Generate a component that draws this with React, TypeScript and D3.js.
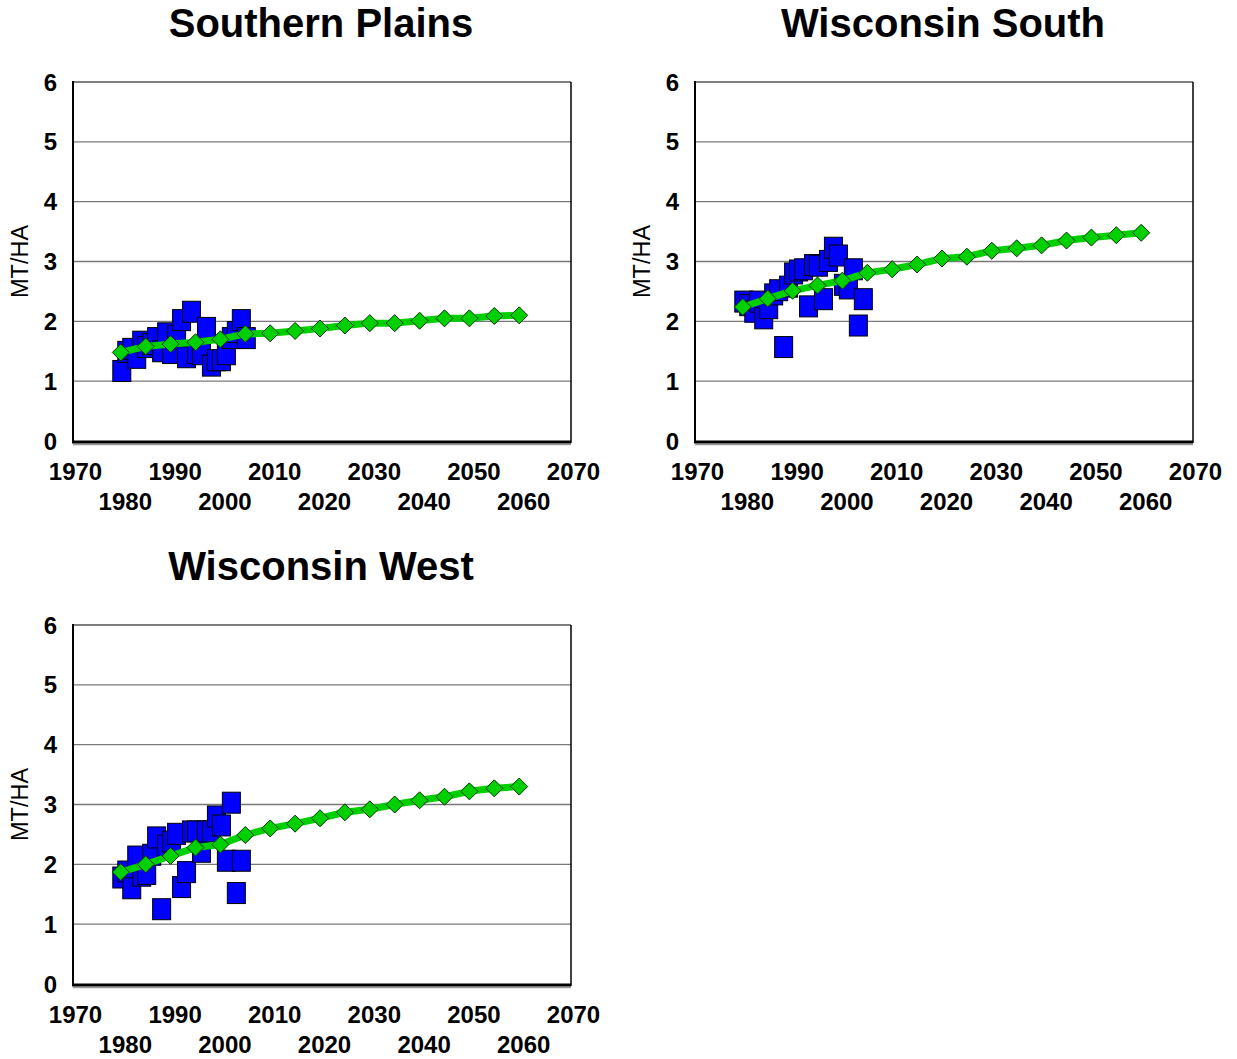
import React from "react";
import * as d3 from "d3";

// ---------- Data ----------
const obsYears = d3.range(1980, 2006);
const projYears = d3.range(1980, 2061, 5);

const southernPlainsObs = [
  1.17, 1.49, 1.54, 1.39, 1.66, 1.57, 1.62, 1.72, 1.5, 1.8, 1.47, 1.76, 2.02,
  1.4, 2.16, 1.47, 1.45, 1.89, 1.26, 1.35, 1.35, 1.45, 1.72, 1.82, 2.02, 1.72,
];
const southernPlainsProj = [
  1.48, 1.58, 1.62, 1.65, 1.7, 1.79, 1.8, 1.84, 1.88, 1.93, 1.97, 1.97, 2.01,
  2.05, 2.05, 2.09, 2.1,
];

const wisconsinSouthObs = [
  2.33, 2.27, 2.16, 2.33, 2.05, 2.22, 2.45, 2.52, 1.57, 2.58, 2.8, 2.85, 2.87,
  2.25, 2.94, 2.93, 2.37, 3.01, 3.23, 3.1, 2.61, 2.55, 2.87, 1.93, 2.37,
];
const wisconsinSouthProj = [
  2.24, 2.38, 2.51, 2.6, 2.68, 2.81, 2.87, 2.95, 3.05, 3.08, 3.18, 3.22, 3.27,
  3.35, 3.4, 3.44, 3.48,
];

const wisconsinWestObs = [
  1.78, 1.88, 1.6, 2.13, 1.81, 1.84, 2.16, 2.45, 1.25, 2.31, 2.38, 2.51, 1.62,
  1.87, 2.55, 2.55, 2.21, 2.55, 2.55, 2.8, 2.65, 2.06, 3.03, 1.52, 2.06,
];
const wisconsinWestProj = [
  1.87, 2.0, 2.14, 2.28, 2.33, 2.49, 2.6, 2.68, 2.77, 2.87, 2.92, 3.0, 3.07,
  3.13, 3.22, 3.27, 3.3,
];

const yTicks = [0, 1, 2, 3, 4, 5, 6];
const xTicksTop = [1970, 1990, 2010, 2030, 2050, 2070];
const xTicksBottom = [1980, 2000, 2020, 2040, 2060];
const yLabel = "MT/HA";

const panels = [
  { title: "Southern Plains", obs: southernPlainsObs, proj: southernPlainsProj, left: 73, top: 82 },
  { title: "Wisconsin South", obs: wisconsinSouthObs, proj: wisconsinSouthProj, left: 695, top: 82 },
  { title: "Wisconsin West", obs: wisconsinWestObs, proj: wisconsinWestProj, left: 73, top: 625 },
];

const FONT = "'Liberation Sans', Arial, Helvetica, sans-serif";
const PW = 498;
const PH = 359;

function Panel({ title, obs, proj, left, top }: any) {
  const right = left + PW;
  const bottom = top + PH;
  const x = d3.scaleLinear().domain([1970, 2070]).range([left - 2, right - 2]);
  const y = d3.scaleLinear().domain([0, 6]).range([bottom, top]);
  const line = d3
    .line<number>()
    .x((_, i) => x(projYears[i]))
    .y((d) => y(d));
  const sqW = 18;
  const sqH = 21;
  const dm = 8.5;
  return (
    <g>
      <text
        x={(left + right) / 2 - 1}
        y={top - 45}
        textAnchor="middle"
        fontFamily={FONT}
        fontWeight="bold"
        fontSize={40}
        fill="#000"
      >
        {title}
      </text>
      {/* gridlines */}
      {yTicks
        .filter((t) => t > 0 && t < 6)
        .map((t) => (
          <line key={t} x1={left} x2={right} y1={y(t)} y2={y(t)} stroke="#7a7a7a" strokeWidth={1.3} />
        ))}
      {/* border */}
      <line x1={left} x2={right} y1={top} y2={top} stroke="#000" strokeWidth={1.2} />
      <line x1={right} x2={right} y1={top} y2={bottom + 2} stroke="#000" strokeWidth={1.5} />
      {/* y tick labels */}
      {yTicks.map((t) => (
        <text
          key={t}
          x={left - 16}
          y={y(t) + 8.5}
          textAnchor="end"
          fontFamily={FONT}
          fontWeight="bold"
          fontSize={24}
          fill="#000"
        >
          {t}
        </text>
      ))}
      {/* x tick labels */}
      {xTicksTop.map((t) => (
        <text
          key={t}
          x={x(t) + 4.5}
          y={bottom + 39}
          textAnchor="middle"
          fontFamily={FONT}
          fontWeight="bold"
          fontSize={24}
          fill="#000"
        >
          {t}
        </text>
      ))}
      {xTicksBottom.map((t) => (
        <text
          key={t}
          x={x(t) + 4.5}
          y={bottom + 69}
          textAnchor="middle"
          fontFamily={FONT}
          fontWeight="bold"
          fontSize={24}
          fill="#000"
        >
          {t}
        </text>
      ))}
      {/* y axis label */}
      <text
        transform={`translate(${left - 45},${(top + bottom) / 2}) rotate(-90)`}
        textAnchor="middle"
        fontFamily={FONT}
        fontSize={23.5}
        fill="#000"
      >
        {yLabel}
      </text>
      {/* observed squares */}
      {obs.map((v: number, i: number) => (
        <rect
          key={i}
          x={x(obsYears[i]) + 1 - sqW / 2}
          y={y(v) - sqH / 2}
          width={sqW}
          height={sqH}
          fill="#0000ff"
          stroke="#000"
          strokeWidth={1}
        />
      ))}
      {/* projection line */}
      <path d={line(proj) || ""} fill="none" stroke="#00d000" strokeWidth={7} strokeLinejoin="round" />
      {proj.map((v: number, i: number) => {
        const cx = x(projYears[i]);
        const cy = y(v);
        return (
          <path
            key={i}
            d={`M${cx - dm},${cy} L${cx},${cy - dm} L${cx + dm},${cy} L${cx},${cy + dm} Z`}
            fill="#00d000"
            stroke="#003300"
            strokeWidth={1}
          />
        );
      })}
      {/* left axis and bottom axis */}
      <line x1={left} x2={left} y1={top - 1} y2={bottom + 2} stroke="#000" strokeWidth={2} />
      <line x1={left} x2={right} y1={bottom + 3.5} y2={bottom + 3.5} stroke="#9a9a9a" strokeWidth={1.5} />
      <line x1={left - 1} x2={right} y1={bottom + 1} y2={bottom + 1} stroke="#000" strokeWidth={3} />
    </g>
  );
}

export default function App() {
  return (
    <svg
      width={1237}
      height={1059}
      style={{ position: "absolute", left: 0, top: 0, display: "block", background: "#fff" }}
    >
      <rect x={0} y={0} width={1237} height={1059} fill="#fff" />
      {panels.map((p) => (
        <Panel key={p.title} {...p} />
      ))}
    </svg>
  );
}
